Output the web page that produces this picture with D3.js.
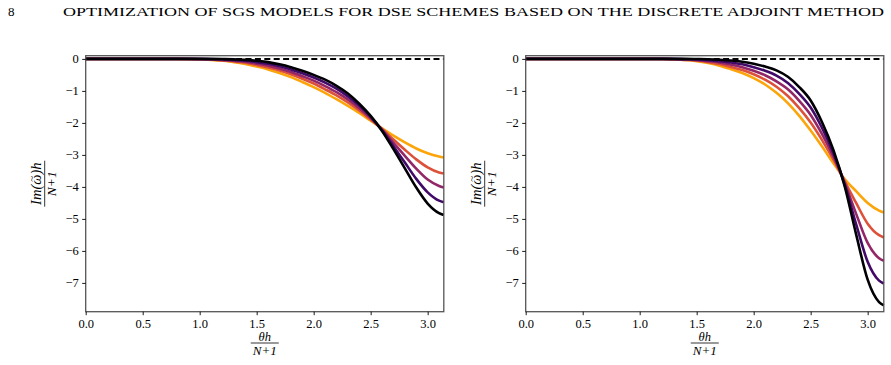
<!DOCTYPE html>
<html>
<head>
<meta charset="utf-8">
<script src="https://cdn.jsdelivr.net/npm/d3@7"></script>
<style>
  body { margin: 0; background: #fff; }
  svg { display: block; }
  text { font-family: "Liberation Serif", "DejaVu Serif", serif; fill: #000; }
</style>
</head>
<body>
<div id="chart"></div>
<script>
// Sampled wavenumbers theta*h/(N+1) (x axis)
const theta = [0, 0.5, 0.8, 1.0, 1.1, 1.2, 1.3, 1.4, 1.5, 1.6, 1.7, 1.8, 1.9, 2.0,
  2.1, 2.2, 2.3, 2.4, 2.5, 2.6, 2.7, 2.8, 2.9, 3.0, 3.1, Math.PI];

// Left panel, one array per curve (orange -> black)
const left1 = [0, 0, 0, -0.01, -0.03, -0.06, -0.10, -0.16, -0.24, -0.33, -0.44, -0.57, -0.72, -0.88,
  -1.06, -1.26, -1.47, -1.69, -1.93, -2.17, -2.40, -2.61, -2.80, -2.95, -3.05, -3.08];
const left2 = [0, 0, 0, -0.01, -0.02, -0.05, -0.08, -0.12, -0.19, -0.27, -0.36, -0.48, -0.62, -0.77,
  -0.95, -1.14, -1.36, -1.61, -1.89, -2.19, -2.52, -2.84, -3.14, -3.39, -3.55, -3.58];
const left3 = [0, 0, 0, -0.01, -0.01, -0.03, -0.06, -0.09, -0.15, -0.21, -0.30, -0.41, -0.54, -0.68,
  -0.85, -1.04, -1.27, -1.54, -1.85, -2.21, -2.62, -3.03, -3.43, -3.77, -3.97, -4.02];
const left4 = [0, 0, 0, 0, -0.01, -0.02, -0.03, -0.06, -0.10, -0.15, -0.23, -0.33, -0.45, -0.58,
  -0.74, -0.93, -1.17, -1.46, -1.81, -2.23, -2.73, -3.24, -3.75, -4.17, -4.43, -4.48];
const left5 = [0, 0, 0, 0, 0, -0.005, -0.015, -0.03, -0.06, -0.10, -0.17, -0.26, -0.37, -0.50,
  -0.65, -0.84, -1.08, -1.40, -1.78, -2.25, -2.82, -3.42, -4.02, -4.52, -4.82, -4.88];

// Right panel
const right1 = [0, 0, 0, 0, 0, -0.005, -0.015, -0.035, -0.07, -0.13, -0.21, -0.32, -0.44, -0.60,
  -0.80, -1.06, -1.38, -1.78, -2.24, -2.74, -3.26, -3.76, -4.14, -4.50, -4.74, -4.80];
const right2 = [0, 0, 0, 0, 0, 0, -0.01, -0.03, -0.05, -0.10, -0.16, -0.25, -0.35, -0.48,
  -0.65, -0.87, -1.16, -1.54, -1.99, -2.54, -3.15, -3.83, -4.51, -5.15, -5.51, -5.58];
const right3 = [0, 0, 0, 0, 0, 0, -0.01, -0.02, -0.04, -0.07, -0.11, -0.18, -0.26, -0.37,
  -0.51, -0.70, -0.95, -1.31, -1.75, -2.35, -3.05, -3.89, -4.85, -5.75, -6.23, -6.31];
const right4 = [0, 0, 0, 0, 0, 0, 0, -0.01, -0.02, -0.04, -0.07, -0.11, -0.17, -0.26,
  -0.37, -0.52, -0.75, -1.09, -1.52, -2.16, -2.95, -3.94, -5.18, -6.34, -6.93, -7.02];
const right5 = [0, 0, 0, 0, 0, 0, 0, 0, -0.004, -0.01, -0.025, -0.05, -0.09, -0.15,
  -0.24, -0.36, -0.56, -0.88, -1.30, -1.98, -2.85, -4.00, -5.50, -6.90, -7.60, -7.70];

const colors = ["#fca50a", "#dd513a", "#932667", "#420a68", "#000004"];
const xTicks = [0, 0.5, 1.0, 1.5, 2.0, 2.5, 3.0];
const yTicks = [0, -1, -2, -3, -4, -5, -6, -7];

const svg = d3.select("#chart").append("svg")
  .attr("width", 891)
  .attr("height", 365);

// page header
svg.append("text").attr("x", 8).attr("y", 16).attr("font-size", 13).text("8");
svg.append("text")
  .attr("x", 63).attr("y", 16)
  .attr("font-size", 13)
  .attr("textLength", 821)
  .attr("lengthAdjust", "spacingAndGlyphs")
  .text("OPTIMIZATION OF SGS MODELS FOR DSE SCHEMES BASED ON THE DISCRETE ADJOINT METHOD");

const plotTop = 55.7, plotBottom = 311.7;
const y = d3.scaleLinear().domain([-7.9, 0.1]).range([plotBottom, plotTop]);

function panel(x0, x1, series) {
  const x = d3.scaleLinear().domain([0, Math.PI]).range([x0, x1]);
  const g = svg.append("g");

  // zero reference
  g.append("line")
    .attr("x1", x(0)).attr("x2", x(Math.PI))
    .attr("y1", y(0)).attr("y2", y(0))
    .attr("stroke", "#000").attr("stroke-width", 2)
    .attr("stroke-dasharray", "6,3.4");

  const line = d3.line()
    .x((d, i) => x(theta[i]))
    .y(d => y(d))
    .curve(d3.curveMonotoneX);

  series.forEach((s, i) => {
    g.append("path")
      .attr("d", line(s))
      .attr("fill", "none")
      .attr("stroke", colors[i])
      .attr("stroke-width", 2.6)
      .attr("stroke-linejoin", "round");
  });

  // frame
  g.append("rect")
    .attr("x", x0).attr("y", plotTop)
    .attr("width", x1 - x0).attr("height", plotBottom - plotTop)
    .attr("fill", "none").attr("stroke", "#555").attr("stroke-width", 1.3);

  // x axis
  const xa = g.append("g")
    .attr("transform", `translate(0,${plotBottom})`)
    .call(d3.axisBottom(x).tickValues(xTicks).tickFormat(d3.format(".1f"))
      .tickSize(3.5).tickPadding(3.5));
  xa.select(".domain").remove();
  xa.selectAll("line").attr("stroke", "#000").attr("stroke-width", 0.9);
  xa.selectAll("text").style("font-size", "12.5px");

  // y axis
  const ya = g.append("g")
    .attr("transform", `translate(${x0},0)`)
    .call(d3.axisLeft(y).tickValues(yTicks).tickFormat(d => d < 0 ? "\u2212" + (-d) : "0")
      .tickSize(3.5).tickPadding(3.5));
  ya.select(".domain").remove();
  ya.selectAll("line").attr("stroke", "#000").attr("stroke-width", 0.9);
  ya.selectAll("text").style("font-size", "12.5px");

  // x label: theta h / (N+1)
  const cx = (x0 + x1) / 2;
  const xl = g.append("g").attr("transform", `translate(${cx},0)`);
  xl.append("text").attr("y", 340.5).attr("text-anchor", "middle")
    .style("font-size", "12.5px").attr("font-style", "italic").text("\u03b8h");
  xl.append("line").attr("x1", -14).attr("x2", 14).attr("y1", 343).attr("y2", 343)
    .attr("stroke", "#000").attr("stroke-width", 0.8);
  xl.append("text").attr("y", 355).attr("text-anchor", "middle")
    .style("font-size", "13px").attr("font-style", "italic").text("N+1");

  // y label: Im(omega~)h / (N+1), rotated
  const cy = (plotTop + plotBottom) / 2;
  const yl = g.append("g").attr("transform", `translate(${x0 - 41.5},${cy}) rotate(-90)`);
  const num = yl.append("text").attr("y", -3).attr("text-anchor", "middle")
    .style("font-size", "14.5px").attr("font-style", "italic").text("Im(\u03c9)h");
  // tilde over omega
  const n = num.node();
  const wx = (n.getStartPositionOfChar(3).x + n.getEndPositionOfChar(3).x) / 2;
  yl.append("text").attr("x", wx + 1).attr("y", -9.5).attr("text-anchor", "middle")
    .style("font-size", "11px").text("~");
  yl.append("line").attr("x1", -23).attr("x2", 23).attr("y1", 0.5).attr("y2", 0.5)
    .attr("stroke", "#000").attr("stroke-width", 0.8);
  yl.append("text").attr("y", 11.5).attr("text-anchor", "middle")
    .style("font-size", "13.5px").attr("font-style", "italic").text("N+1");
}

panel(85.7, 443.8, [left1, left2, left3, left4, left5]);
panel(525.7, 883.8, [right1, right2, right3, right4, right5]);
</script>
</body>
</html>
